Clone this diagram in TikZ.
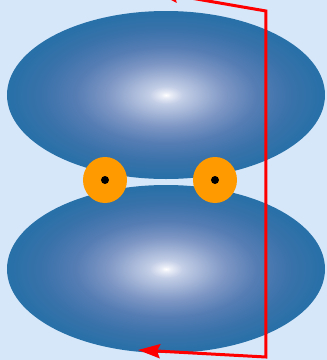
\documentclass[tikz,border=0pt]{standalone}
\usetikzlibrary{shapes.geometric,arrows.meta}
\definecolor{bgblue}{RGB}{214,231,250}
\definecolor{ellblue}{RGB}{40,112,168}
\definecolor{orng}{RGB}{255,155,0}
\definecolor{gA}{RGB}{232,236,246}
\definecolor{gB}{RGB}{195,206,230}
\definecolor{gC}{RGB}{125,150,196}
\definecolor{gD}{RGB}{85,125,180}
\definecolor{gE}{RGB}{58,114,170}
\pgfdeclareradialshading{glow}{\pgfpoint{0bp}{0bp}}{%
  color(0bp)=(white);
  color(0.8bp)=(gA);
  color(2.6bp)=(gB);
  color(9.4bp)=(gC);
  color(14.3bp)=(gD);
  color(19.5bp)=(gE);
  color(24.7bp)=(ellblue);
  color(50bp)=(ellblue)}
\tikzset{
  blob/.style={ellipse,inner sep=0pt,minimum width=318pt,minimum height=168pt,
    shading=glow},
  ring/.style={ellipse,inner sep=0pt,minimum width=44pt,minimum height=46pt,fill=orng},
  dot/.style={circle,inner sep=0pt,minimum size=8pt,fill=black},
  redline/.style={red,line width=3pt,line join=miter,
    {Stealth[length=22pt,width=14pt,inset=3pt]}-{Stealth[length=22pt,width=14pt,inset=3pt]}}
}
\begin{document}
\begin{tikzpicture}[x=1pt,y=-1pt]
\fill[bgblue] (0,0) rectangle (327,360);
\useasboundingbox (0,0) rectangle (327,360);
\node[blob] (top) at (166,95) {};
\node[blob] (bot) at (166,269) {};
\node[ring] (o1) at (105,180) {};
\node[ring] (o2) at (215,180) {};
\node[dot] (d1) at (o1) {};
\node[dot] (d2) at (o2) {};
\coordinate (s) at (156,-8);
\coordinate (c1) at (266,11);
\coordinate (c2) at (266,357);
\coordinate (e) at (138,350);
\draw[redline] (s) -- (c1) -- (c2) -- (e);
\end{tikzpicture}
\end{document}
